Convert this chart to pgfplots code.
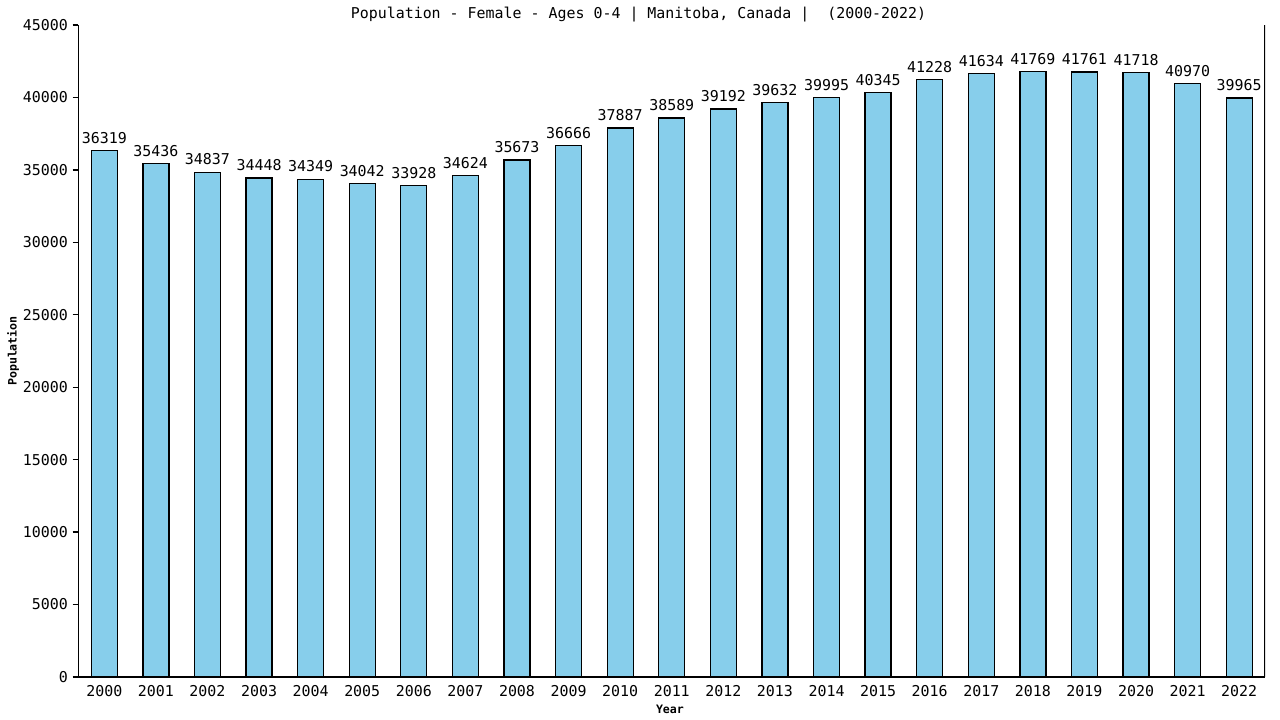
\documentclass[border=0pt]{standalone}
\usepackage{pgfplots}
\pgfplotsset{compat=1.18}
\usepackage{fontspec}
\setmainfont{DejaVu Sans Mono}
\setmonofont{DejaVu Sans Mono}

\definecolor{barblue}{HTML}{87CEEB}

\pgfplotstableread{
year pop
2000 36319
2001 35436
2002 34837
2003 34448
2004 34349
2005 34042
2006 33928
2007 34624
2008 35673
2009 36666
2010 37887
2011 38589
2012 39192
2013 39632
2014 39995
2015 40345
2016 41228
2017 41634
2018 41769
2019 41761
2020 41718
2021 40970
2022 39965
}\popdata

\begin{document}
\begin{tikzpicture}
\path[use as bounding box] (-58.875pt,-32.25pt) rectangle (901.125pt,507.75pt);
\begin{axis}[
    at={(0,0)}, anchor=south west,
    scale only axis, width=889.875pt, height=489pt,
    ybar, bar width=19.5pt,
    xmin=1999.5, xmax=2022.5, ymin=0, ymax=45000,
    xtick=data,
    ytick={0,5000,...,45000},
    scaled y ticks=false,
    /pgf/number format/1000 sep={},
    /pgf/number format/assume math mode=true,
    axis x line*=bottom, axis y line*=left,
    axis line style={-, line width=1pt},
    xtick style={draw=none},
    ytick style={black, line width=1pt},
    tick align=outside, major tick length=4.5pt,
    ytick pos=left,
    ticklabel style={font=\fontsize{11.2}{13}\selectfont},
    xticklabel style={yshift=1.5pt},
    nodes near coords,
    nodes near coords style={font=\fontsize{11.2}{13}\selectfont, black, yshift=1.5pt},
    title={Population - Female - Ages 0-4 | Manitoba, Canada |~ (2000-2022)},
    title style={at={(0.472,1)}, anchor=center, yshift=1.5pt, font=\fontsize{11.2}{13}\selectfont},
    xlabel={Year},
    xlabel style={at={(axis description cs:0.4985,0)}, anchor=center, yshift=-24pt, font=\fontsize{8.7}{10}\selectfont\bfseries},
    ylabel={Population},
    ylabel style={at={(axis description cs:-0.0552,0.5)}, anchor=center, font=\fontsize{8.7}{10}\selectfont\bfseries},
]
\addplot[fill=barblue, draw=black, line width=1pt] table[x=year, y=pop] {\popdata};
\draw[line width=1pt] (rel axis cs:1,0) -- (rel axis cs:1,1);
\end{axis}
\end{tikzpicture}
\end{document}
